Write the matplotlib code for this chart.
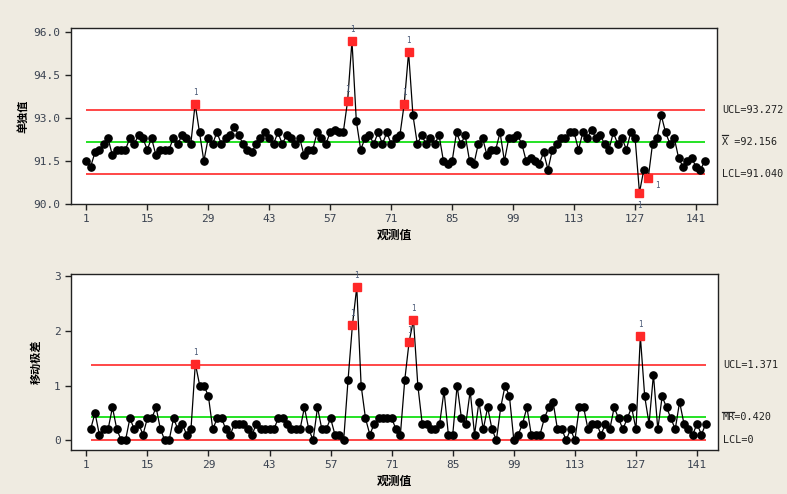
import numpy as np
import matplotlib
matplotlib.use("Agg")
import matplotlib.pyplot as plt
from matplotlib.lines import Line2D

# ---- data ----
individual = [
    91.5, 91.3, 91.8, 91.9, 92.1, 92.3, 91.7, 91.9, 91.9, 91.9,
    92.3, 92.1, 92.4, 92.3, 91.9, 92.3, 91.7, 91.9, 91.9, 91.9,
    92.3, 92.1, 92.4, 92.3, 92.1, 93.5, 92.5, 91.5, 92.3, 92.1,
    92.5, 92.1, 92.3, 92.4, 92.7, 92.4, 92.1, 91.9, 91.8, 92.1,
    92.3, 92.5, 92.3, 92.1, 92.5, 92.1, 92.4, 92.3, 92.1, 92.3,
    91.7, 91.9, 91.9, 92.5, 92.3, 92.1, 92.5, 92.6, 92.5, 92.5,
    93.6, 95.7, 92.9, 91.9, 92.3, 92.4, 92.1, 92.5, 92.1, 92.5,
    92.1, 92.3, 92.4, 93.5, 95.3, 93.1, 92.1, 92.4, 92.1, 92.3,
    92.1, 92.4, 91.5, 91.4, 91.5, 92.5, 92.1, 92.4, 91.5, 91.4,
    92.1, 92.3, 91.7, 91.9, 91.9, 92.5, 91.5, 92.3, 92.3, 92.4,
    92.1, 91.5, 91.6, 91.5, 91.4, 91.8, 91.2, 91.9, 92.1, 92.3,
    92.3, 92.5, 92.5, 91.9, 92.5, 92.3, 92.6, 92.3, 92.4, 92.1,
    91.9, 92.5, 92.1, 92.3, 91.9, 92.5, 92.3, 90.4, 91.2, 90.9,
    92.1, 92.3, 93.1, 92.5, 92.1, 92.3, 91.6, 91.3, 91.5, 91.6,
    91.3, 91.2, 91.5,
]
moving_range = [  # observations 2..143
    0.2, 0.5, 0.1, 0.2, 0.2, 0.6, 0.2, 0.0, 0.0, 0.4,
    0.2, 0.3, 0.1, 0.4, 0.4, 0.6, 0.2, 0.0, 0.0, 0.4,
    0.2, 0.3, 0.1, 0.2, 1.4, 1.0, 1.0, 0.8, 0.2, 0.4,
    0.4, 0.2, 0.1, 0.3, 0.3, 0.3, 0.2, 0.1, 0.3, 0.2,
    0.2, 0.2, 0.2, 0.4, 0.4, 0.3, 0.2, 0.2, 0.2, 0.6,
    0.2, 0.0, 0.6, 0.2, 0.2, 0.4, 0.1, 0.1, 0.0, 1.1,
    2.1, 2.8, 1.0, 0.4, 0.1, 0.3, 0.4, 0.4, 0.4, 0.4,
    0.2, 0.1, 1.1, 1.8, 2.2, 1.0, 0.3, 0.3, 0.2, 0.2,
    0.3, 0.9, 0.1, 0.1, 1.0, 0.4, 0.3, 0.9, 0.1, 0.7,
    0.2, 0.6, 0.2, 0.0, 0.6, 1.0, 0.8, 0.0, 0.1, 0.3,
    0.6, 0.1, 0.1, 0.1, 0.4, 0.6, 0.7, 0.2, 0.2, 0.0,
    0.2, 0.0, 0.6, 0.6, 0.2, 0.3, 0.3, 0.1, 0.3, 0.2,
    0.6, 0.4, 0.2, 0.4, 0.6, 0.2, 1.9, 0.8, 0.3, 1.2,
    0.2, 0.8, 0.6, 0.4, 0.2, 0.7, 0.3, 0.2, 0.1, 0.3,
    0.1, 0.3,
]
i_ucl, i_center, i_lcl = 93.272, 92.156, 91.040
mr_ucl, mr_center, mr_lcl = 1.371, 0.420, 0.0
x_ticks = [1, 15, 29, 43, 57, 71, 85, 99, 113, 127, 141]
i_yticks = [90.0, 91.5, 93.0, 94.5, 96.0]
i_yticklabels = ["90.0", "91.5", "93.0", "94.5", "96.0"]
mr_yticks = [0, 1, 2, 3]
x_label = "观测值"
i_ylabel = "单独值"
mr_ylabel = "移动极差"

# ---- figure ----
W, H = 787, 494
fig = plt.figure(figsize=(W / 100, H / 100), dpi=100)
fig.patch.set_facecolor("#EFEBE1")

def frac_box(x0, y0, x1, y1):
    return [x0 / W, 1 - y1 / H, (x1 - x0) / W, (y1 - y0) / H]

ax1 = fig.add_axes(frac_box(71, 28, 717, 204))
ax2 = fig.add_axes(frac_box(71, 274, 718, 450))

mono = "DejaVu Sans Mono"
cjk = ["Noto Sans CJK SC", "DejaVu Sans"]
tick_color = "#3a4250"
red = "#FF2828"
green = "#00DD00"

def style(ax):
    ax.set_facecolor("white")
    for s in ax.spines.values():
        s.set_linewidth(1.0)
        s.set_color("#222222")
    ax.tick_params(direction="out", length=4, width=1, colors="#222222",
                   labelsize=8, labelcolor=tick_color)
    for lab in ax.get_xticklabels() + ax.get_yticklabels():
        lab.set_fontfamily(mono)

xi = np.arange(1, len(individual) + 1)
yi = np.array(individual)
xm = np.arange(2, len(moving_range) + 2)
ym = np.array(moving_range)

# Individuals chart
ax1.hlines([i_ucl, i_lcl], 1, xi[-1], colors=red, lw=1.2, zorder=1)
ax1.hlines(i_center, 1, xi[-1], colors=green, lw=1.2, zorder=1)
ax1.plot(xi, yi, "-", color="black", lw=0.9, zorder=2)
ok = (yi <= i_ucl) & (yi >= i_lcl)
ax1.plot(xi[ok], yi[ok], "o", color="black", ms=5.2, zorder=3)
ax1.plot(xi[~ok], yi[~ok], "s", color=red, ms=5.5, zorder=4)
for x, y in zip(xi[~ok], yi[~ok]):
    if y > i_ucl:
        ax1.annotate("1", (x, y), xytext=(0, 5), textcoords="offset points",
                     ha="center", va="bottom", fontsize=5.5, color="#4a5a78", family=mono)
    else:
        if x == 128:
            ax1.annotate("1", (x, y), xytext=(0, -6), textcoords="offset points",
                         ha="center", va="top", fontsize=5.5, color="#4a5a78", family=mono)
        else:
            ax1.annotate("1", (x, y), xytext=(5, -5), textcoords="offset points",
                         ha="left", va="center", fontsize=5.5, color="#4a5a78", family=mono)

ax1.set_xlim(-2.5, 145.8)
ax1.set_ylim(90.0, 96.15)
ax1.set_xticks(x_ticks)
ax1.set_yticks(i_yticks)
ax1.set_yticklabels(i_yticklabels)
style(ax1)
ax1.set_xlabel(x_label, family=cjk, fontsize=8.5, fontweight="bold", labelpad=3)
ax1.set_ylabel(i_ylabel, family=cjk, fontsize=8, fontweight="bold", labelpad=3)

# Moving range chart
ax2.hlines([mr_ucl, mr_lcl], 2, xm[-1], colors=red, lw=1.2, zorder=1)
ax2.hlines(mr_center, 2, xm[-1], colors=green, lw=1.2, zorder=1)
ax2.plot(xm, ym, "-", color="black", lw=0.9, zorder=2)
okm = ym <= mr_ucl
ax2.plot(xm[okm], ym[okm], "o", color="black", ms=5.2, zorder=3)
ax2.plot(xm[~okm], ym[~okm], "s", color=red, ms=5.5, zorder=4)
for x, y in zip(xm[~okm], ym[~okm]):
    ax2.annotate("1", (x, y), xytext=(0, 5), textcoords="offset points",
                 ha="center", va="bottom", fontsize=5.5, color="#4a5a78", family=mono)
ax2.set_xlim(-2.5, 145.8)
ax2.set_ylim(-0.18, 3.04)
ax2.set_xticks(x_ticks)
ax2.set_yticks(mr_yticks)
style(ax2)
ax2.set_xlabel(x_label, family=cjk, fontsize=8.5, fontweight="bold", labelpad=3)
ax2.set_ylabel(mr_ylabel, family=cjk, fontsize=8, fontweight="bold", labelpad=8)

# right-side limit labels
def rlabel(ax, y, s):
    ax.annotate(s, xy=(1, y), xycoords=("axes fraction", "data"),
                xytext=(3.5, 0), textcoords="offset points", ha="left", va="center",
                fontsize=7.3, family=mono, color="#222222", annotation_clip=False)

rlabel(ax1, i_ucl, "UCL=%.3f" % i_ucl)
rlabel(ax1, i_center, "X =%.3f" % i_center)
rlabel(ax1, i_lcl, "LCL=%.3f" % i_lcl)
rlabel(ax2, mr_ucl, "UCL=%.3f" % mr_ucl)
rlabel(ax2, mr_center, "MR=%.3f" % mr_center)
rlabel(ax2, mr_lcl, "LCL=0")

# overbars
def bar(x0, x1, y):
    fig.add_artist(Line2D([x0 / W, x1 / W], [1 - y / H, 1 - y / H],
                          transform=fig.transFigure, color="#222222", lw=0.9))

bar(722, 728, 135.5)
bar(722, 734, 411.5)

fig.savefig("out.png", dpi=100, facecolor=fig.get_facecolor())
